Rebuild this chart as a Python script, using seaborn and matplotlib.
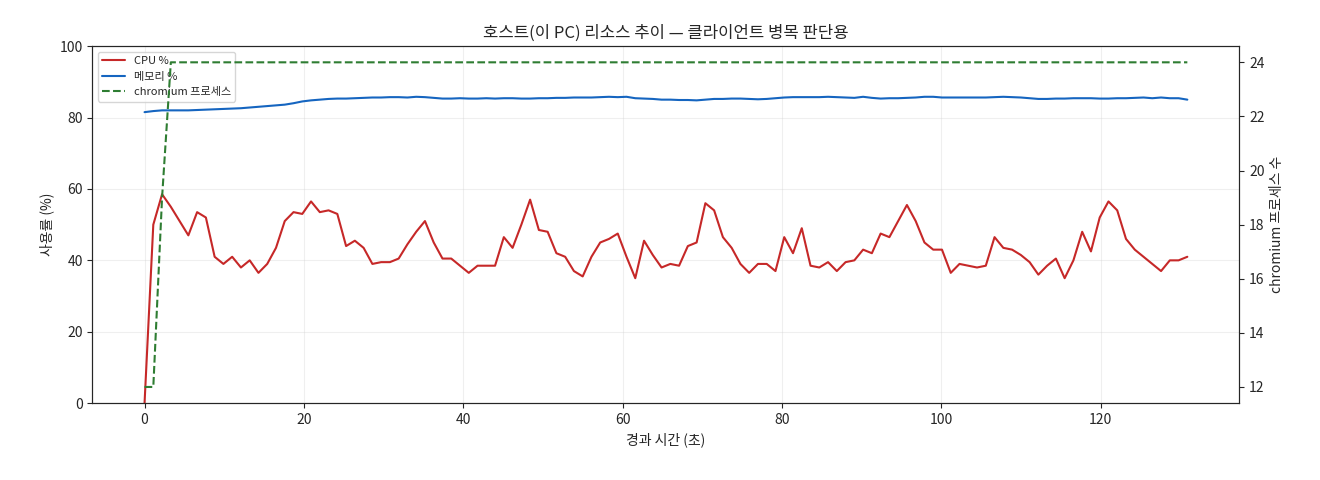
import matplotlib
matplotlib.use("Agg")
import matplotlib.pyplot as plt
import numpy as np
import pandas as pd
import seaborn as sns

cpu = [0, 50, 58.5, 55, 51, 47, 53.5, 52, 41, 39, 41, 38, 40, 36.5, 39, 43.5, 51, 53.5, 53, 56.5,
       53.5, 54, 53, 44, 45.5, 43.5, 39, 39.5, 39.5, 40.5, 44.5, 48, 51, 45, 40.5, 40.5, 38.5, 36.5, 38.5, 38.5,
       38.5, 46.5, 43.5, 50, 57, 48.5, 48, 42, 41, 37, 35.5, 41, 45, 46, 47.5, 41, 35, 45.5, 41.5, 38,
       39, 38.5, 44, 45, 56, 54, 46.5, 43.5, 39, 36.5, 39, 39, 37, 46.5, 42, 49, 38.5, 38, 39.5, 37,
       39.5, 40, 43, 42, 47.5, 46.5, 51, 55.5, 51, 45, 43, 43, 36.5, 39, 38.5, 38, 38.5, 46.5, 43.5, 43,
       41.5, 39.5, 36, 38.5, 40.5, 35, 40, 48, 42.5, 52, 56.5, 54, 46, 43, 41, 39, 37, 40, 40, 41]
mem = [81.5, 81.8, 82, 82, 82, 82, 82.1, 82.2, 82.3, 82.4, 82.5, 82.6, 82.8, 83, 83.2, 83.4, 83.6, 84, 84.5, 84.8,
       85, 85.2, 85.3, 85.3, 85.4, 85.5, 85.6, 85.6, 85.7, 85.7, 85.6, 85.8, 85.7, 85.5, 85.3, 85.3, 85.4, 85.3, 85.3, 85.4,
       85.3, 85.4, 85.4, 85.3, 85.3, 85.4, 85.4, 85.5, 85.5, 85.6, 85.6, 85.6, 85.7, 85.8, 85.7, 85.8, 85.4, 85.3, 85.2, 85,
       85, 84.9, 84.9, 84.8, 85, 85.2, 85.2, 85.3, 85.3, 85.2, 85.1, 85.2, 85.4, 85.6, 85.7, 85.7, 85.7, 85.7, 85.8, 85.7,
       85.6, 85.5, 85.8, 85.5, 85.3, 85.4, 85.4, 85.5, 85.6, 85.8, 85.8, 85.6, 85.6, 85.6, 85.6, 85.6, 85.6, 85.7, 85.8, 85.7,
       85.6, 85.4, 85.2, 85.2, 85.3, 85.3, 85.4, 85.4, 85.4, 85.3, 85.3, 85.4, 85.4, 85.5, 85.6, 85.4, 85.6, 85.4, 85.4, 85]
procs = [12, 12, 19, 24] + [24] * 116

t = np.round(np.arange(len(cpu)) * 1.1, 1)
df = pd.DataFrame({"t": t, "cpu": cpu, "mem": mem, "procs": procs})

sns.set_style("ticks")
plt.rcParams['font.family'] = ['Noto Sans CJK KR', 'DejaVu Sans']

fig, ax = plt.subplots(figsize=(13.2, 4.8), dpi=100)
sns.lineplot(x="t", y="cpu", data=df, ax=ax, color="#c62828", lw=1.5, label="CPU %", legend=False)
sns.lineplot(x="t", y="mem", data=df, ax=ax, color="#1565c0", lw=1.5, label="메모리 %", legend=False)
ax.set_ylim(0, 100)
ax.set_xlabel("경과 시간 (초)")
ax.set_ylabel("사용률 (%)")
ax.grid(True, alpha=0.3)
ax.set_title("호스트(이 PC) 리소스 추이 — 클라이언트 병목 판단용")

ax2 = ax.twinx()
sns.lineplot(x="t", y="procs", data=df, ax=ax2, color="#2e7d32", lw=1.5, linestyle="--",
             label="chromium 프로세스", legend=False)
ax2.set_ylabel("chromium 프로세스 수")
ax2.set_ylim(11.4, 24.6)

h1, l1 = ax.get_legend_handles_labels()
h2, l2 = ax2.get_legend_handles_labels()
ax.legend(h1 + h2, l1 + l2, loc="upper left", fontsize=8)

fig.subplots_adjust(left=0.07, right=0.939, top=0.904, bottom=0.16)
fig.savefig("out.png")
